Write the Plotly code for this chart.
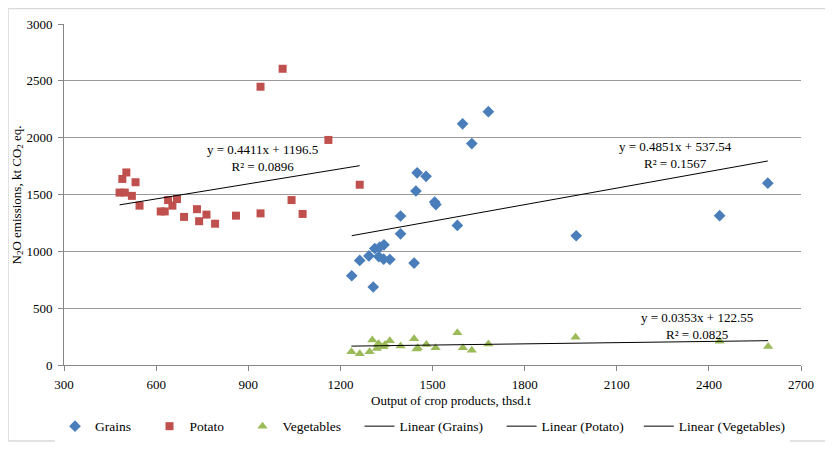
import plotly.graph_objects as go

# ---- data ----
grains_x = [1682, 1598, 1628, 1450, 1479, 1446, 1507, 1511, 1396, 1581, 1396, 1342, 1328,
            1312, 1293, 1325, 1341, 1361, 1263, 1440, 1237, 1307, 2592, 2435, 1968]
grains_y = [2229, 2122, 1948, 1691, 1660, 1531, 1434, 1411, 1311, 1228, 1154, 1057, 1037,
            1025, 960, 954, 931, 928, 920, 897, 785, 686, 1600, 1314, 1137]

potato_x = [481, 490, 503, 498, 521, 533, 546, 615, 628, 639, 653, 668, 691, 733, 740,
            764, 792, 860, 940, 940, 1012, 1041, 1077, 1161, 1263]
potato_y = [1517, 1637, 1694, 1517, 1488, 1608, 1402, 1351, 1351, 1451, 1402, 1460, 1303, 1371, 1265,
            1323, 1243, 1314, 1334, 2448, 2606, 1451, 1329, 1980, 1586]

veg_x = [1236, 1263, 1295, 1304, 1322, 1319, 1325, 1340, 1345, 1361, 1396, 1440, 1448, 1452,
         1480, 1510, 1581, 1599, 1628, 1682, 1966, 2435, 2593]
veg_y = [117, 99, 117, 219, 180, 146, 188, 160, 178, 214, 168, 231, 140, 152,
         180, 151, 283, 151, 129, 185, 245, 208, 163]

# trendline coefficients (slope, intercept, R2) as shown in chart
grains_fit = (0.4851, 537.54, 0.1567)
potato_fit = (0.4411, 1196.5, 0.0896)
veg_fit = (0.0353, 122.55, 0.0825)

x_ticks = [300, 600, 900, 1200, 1500, 1800, 2100, 2400, 2700]
y_ticks = [0, 500, 1000, 1500, 2000, 2500, 3000]

FONT = "Times New Roman, Liberation Serif, serif"
FS = 13
LFS = 13.5
NB = "&nbsp;"
fig = go.Figure()

fig.add_trace(go.Scatter(x=grains_x, y=grains_y, mode="markers", name="Grains" + NB * 4,
                         marker=dict(symbol="diamond", size=9, color="#4a7ebb")))
fig.add_trace(go.Scatter(x=potato_x, y=potato_y, mode="markers", name="Potato" + NB * 4,
                         marker=dict(symbol="square", size=8, color="#c0504d")))
fig.add_trace(go.Scatter(x=veg_x, y=veg_y, mode="markers", name="Vegetables" + NB * 4,
                         marker=dict(symbol="triangle-up", size=9, color="#9bbb59")))


def trend(xs, fit):
    a, b, _ = fit
    x0, x1 = min(xs), max(xs)
    return [x0, x1], [a * x0 + b, a * x1 + b]


for nm, xs, fit in [("Linear (Grains)" + NB * 4, grains_x, grains_fit),
                    ("Linear (Potato)" + NB * 3, potato_x, potato_fit),
                    ("Linear (Vegetables)", veg_x, veg_fit)]:
    tx, ty = trend(xs, fit)
    fig.add_trace(go.Scatter(x=tx, y=ty, mode="lines", name=nm,
                             line=dict(color="#000000", width=1)))

# page body has an 8px margin: figure coords = window coords - 8
OFF = 8
W, H = 833 - OFF, 454 - OFF
L, R, T, B = 64 - OFF, 32, 24 - OFF, 80
pw, ph = W - L - R, H - T - B
def px2paper(x, y):
    x -= OFF
    y -= OFF
    return (x - L) / pw, 1 - (y - T) / ph

# equation labels
def eq_label(fit, px, py):
    a, b, r2 = fit
    x, y = px2paper(px, py)
    fig.add_annotation(xref="paper", yref="paper", x=x, y=y, showarrow=False,
                       text=f"y = {a}x + {b:g}<br>R² = {r2}",
                       font=dict(family=FONT, size=FS, color="#000"),
                       align="center", xanchor="center", yanchor="middle")

eq_label(potato_fit, 262, 162)
eq_label(grains_fit, 675, 158)
eq_label(veg_fit, 697, 334)

# y-axis title placed to match reference
tx, ty = px2paper(17, 200)
fig.add_annotation(xref="paper", yref="paper", x=tx, y=ty, showarrow=False, textangle=-90,
                   text="N<sub>2</sub>O emissions, kt CO<sub>2</sub> eq.",
                   font=dict(family=FONT, size=FS, color="#000"),
                   xanchor="center", yanchor="middle")
# x-axis title
tx, ty = px2paper(451, 410)
fig.add_annotation(xref="paper", yref="paper", x=tx, y=ty, showarrow=False,
                   text="Output of crop products, thsd.t",
                   font=dict(family=FONT, size=FS, color="#000"),
                   xanchor="center", yanchor="middle")

lx, ly = px2paper(55, 437)
bx0, by0 = px2paper(8, 452)
bx1, by1 = px2paper(829, 8)
fig.update_layout(
    width=W, height=H,
    margin=dict(l=L, r=R, t=T, b=B),
    paper_bgcolor="white", plot_bgcolor="white",
    font=dict(family=FONT, size=FS, color="#000"),
    showlegend=True,
    legend=dict(orientation="h", x=lx, xanchor="left", y=ly, yanchor="middle",
                font=dict(family=FONT, size=LFS), itemwidth=30, traceorder="normal"),
    shapes=[dict(type="rect", xref="paper", yref="paper",
                 x0=bx0, x1=bx1, y0=by0, y1=by1,
                 line=dict(color="#d9d9d9", width=1.5), layer="below")],
)

fig.update_xaxes(range=[300, 2700], tickvals=x_ticks, ticks="outside", ticklen=5,
                 tickcolor="#868686", showline=True, linecolor="#868686", linewidth=1,
                 showgrid=False, zeroline=False, automargin=False, ticklabelstandoff=2)
fig.update_yaxes(range=[0, 3000], tickvals=y_ticks, ticks="outside", ticklen=5,
                 tickcolor="#868686", showline=True, linecolor="#868686", linewidth=1,
                 showgrid=True, gridcolor="#9a9a9a", gridwidth=1, zeroline=False,
                 automargin=False, ticklabelstandoff=3)

fig.write_html("out.html")
